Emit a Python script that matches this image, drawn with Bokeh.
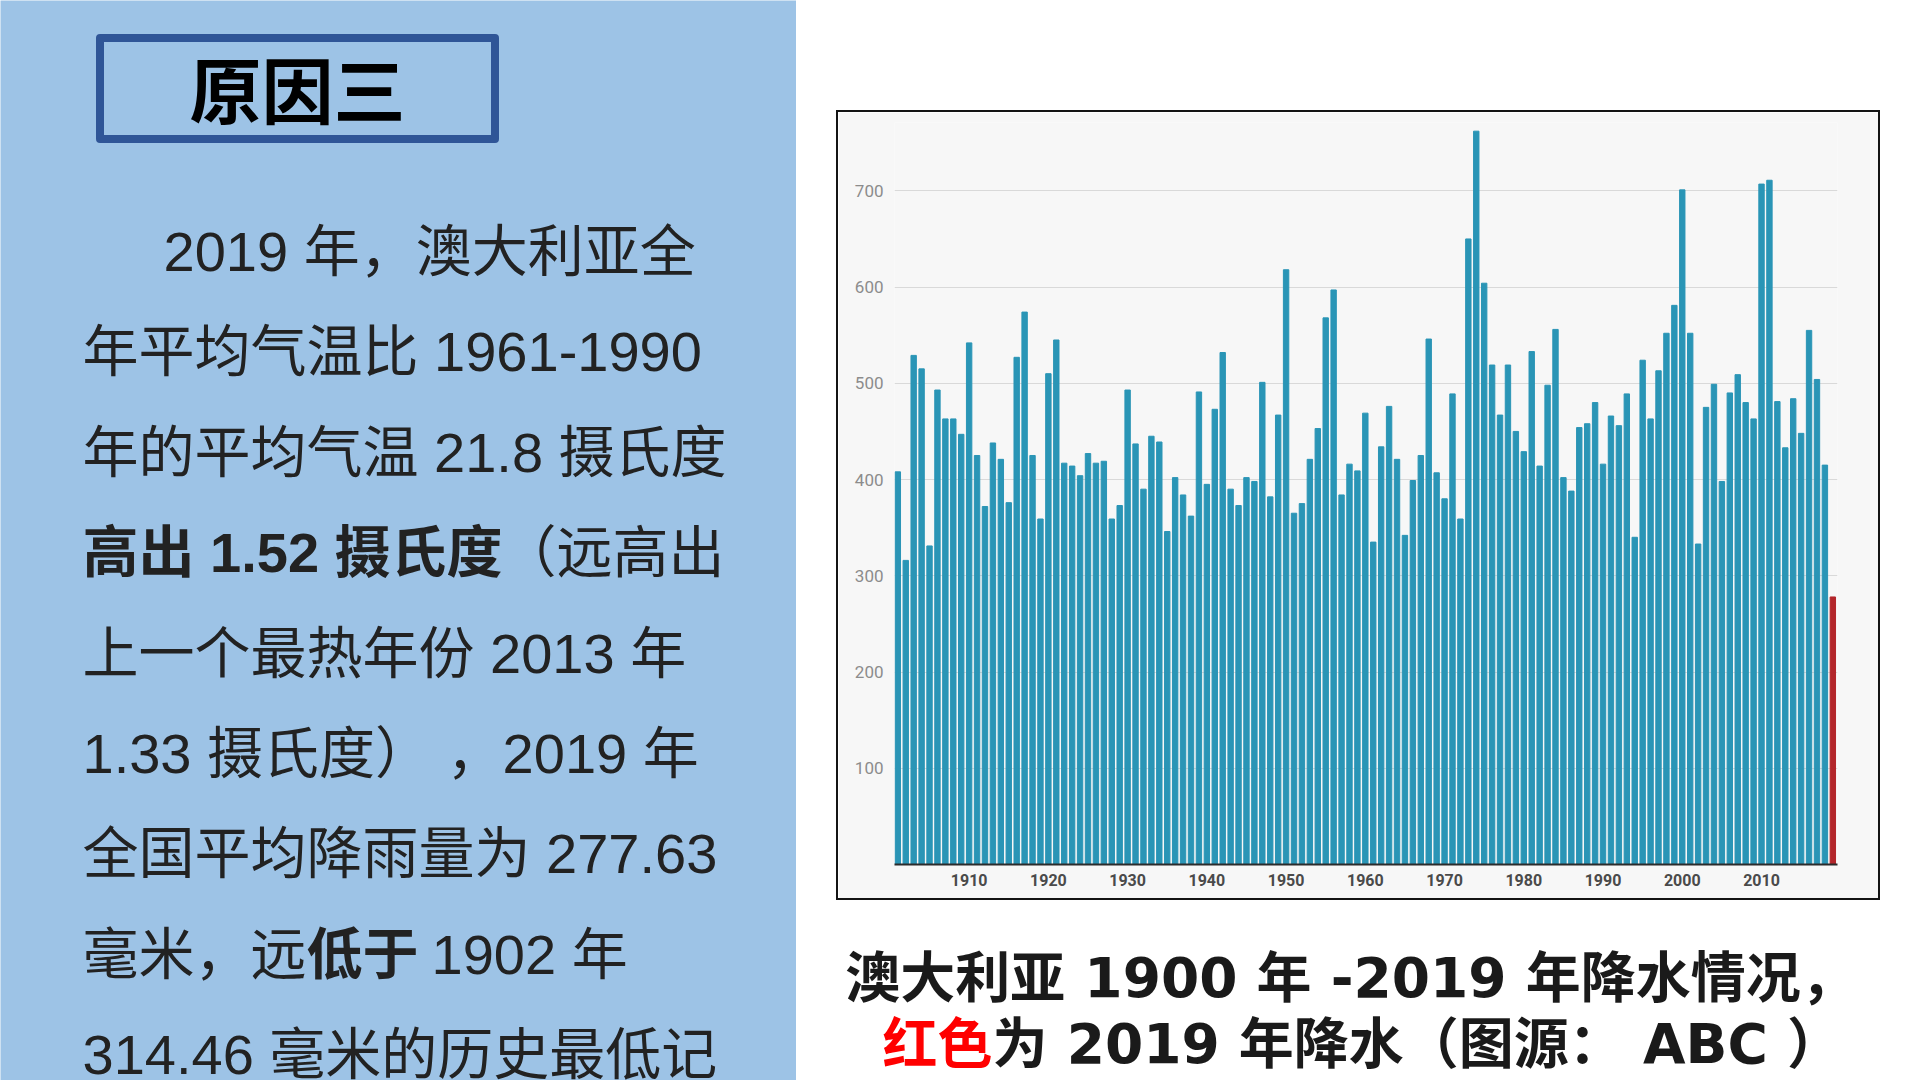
from bokeh.plotting import figure
from bokeh.layouts import row, column
from bokeh.models import Range1d, ColumnDataSource, FixedTicker, Spacer
from bokeh.core.properties import value
from bokeh.embed import file_html
from bokeh.resources import INLINE

# ---------------- data ----------------
years = list(range(1901, 2020))
rainfall = [
    408, 316, 529, 515, 331, 493, 463, 463, 447, 542,   # 1901-1910
    425, 372, 438, 421, 376, 527, 574, 425, 359, 510,   # 1911-1920
    545, 417, 414, 404, 427, 417, 419, 359, 373, 493,   # 1921-1930
    437, 390, 445, 439, 346, 402, 384, 362, 491, 395,   # 1931-1940
    473, 532, 390, 373, 402, 398, 501, 382, 467, 618,   # 1941-1950
    365, 375, 421, 453, 568, 597, 384, 416, 409, 469,   # 1951-1960
    335, 434, 476, 421, 342, 399, 425, 546, 407, 380,   # 1961-1970
    489, 359, 650, 762, 604, 519, 467, 519, 450, 429,   # 1971-1980
    533, 414, 498, 556, 402, 388, 454, 458, 480, 416,   # 1981-1990
    466, 456, 489, 340, 524, 463, 513, 552, 581, 701,   # 1991-2000
    552, 333, 475, 499, 398, 490, 509, 480, 463, 707,   # 2001-2010
    711, 481, 433, 484, 448, 555, 504, 415, 278,        # 2011-2019
]
highlight_year = 2019
x_tick_years = [1910, 1920, 1930, 1940, 1950, 1960, 1970, 1980, 1990, 2000, 2010]
y_ticks = [100, 200, 300, 400, 500, 600, 700]

title_text = "原因三"
body_lines = [
    "2019 年，澳大利亚全",
    "年平均气温比 1961-1990",
    "年的平均气温 21.8 摄氏度",
    None,
    "上一个最热年份 2013 年",
    "1.33 摄氏度） ，2019 年",
    "全国平均降雨量为 277.63",
    None,
    "314.46 毫米的历史最低记",
]
line4 = [("高出 1.52 摄氏度", "bold"), ("（远高出", "normal")]
line8 = [("毫米，远", "normal"), ("低于", "bold"), ("1902 年", "normal")]
caption1 = "澳大利亚 1900 年 -2019 年降水情况，"
caption2_red = "红色"
caption2_rest = "为 2019 年降水（图源： ABC ）"

FONT = "Liberation Sans, Noto Sans CJK SC, sans-serif"
CAP_FONT = "DejaVu Sans, Noto Sans CJK SC, sans-serif"
BAR_COLOR = "#2a95b6"
RED_COLOR = "#b3262b"
PANEL_BLUE = "#9dc3e6"
FRAME_BLACK = "#141414"

# ---------------- left text panel ----------------
left = figure(width=796, height=1080, x_range=Range1d(0, 796), y_range=Range1d(1080, 0),
              x_axis_type=None, y_axis_type=None, output_backend="svg", toolbar_location=None,
              min_border=0, background_fill_color=PANEL_BLUE, border_fill_color=PANEL_BLUE,
              outline_line_color=None)
left.grid.visible = False

left.rect(x=[297], y=[88], width=[395], height=[101], fill_color=None,
          line_color="#2f5597", line_width=8, line_join="round")
left.text(x=[297], y=[92], text=[title_text], text_font=value(FONT), text_font_size="72px",
          text_font_style="bold", text_align="center", text_baseline="middle", text_color="#000000")

FS = 56
line_y = [251, 351, 452, 552, 653, 753, 853, 954, 1054]
xs, ys, ts = [], [], []
for i, t in enumerate(body_lines):
    if t is None:
        continue
    xs.append(163 if i == 0 else 82)
    ys.append(line_y[i])
    ts.append(t)
left.text(x=xs, y=ys, text=ts, text_font=value(FONT), text_font_size=f"{FS}px",
          text_align="left", text_baseline="middle", text_color="#222222")

seg_x4 = [82, 500]
for (t, st), sx in zip(line4, seg_x4):
    left.text(x=[sx], y=[line_y[3]], text=[t], text_font=value(FONT), text_font_size=f"{FS}px",
              text_font_style=st, text_align="left", text_baseline="middle", text_color="#222222")
seg_x8 = [82, 306, 431]
for (t, st), sx in zip(line8, seg_x8):
    left.text(x=[sx], y=[line_y[7]], text=[t], text_font=value(FONT), text_font_size=f"{FS}px",
              text_font_style=st, text_align="left", text_baseline="middle", text_color="#222222")

# ---------------- chart ----------------
colors = [RED_COLOR if y == highlight_year else BAR_COLOR for y in years]
src = ColumnDataSource(dict(year=years, rain=rainfall, color=colors))

chart = figure(width=1040, height=786, x_range=Range1d(1900.58, 2019.59), y_range=Range1d(0, 771),
               output_backend="svg", toolbar_location=None,
               min_border_left=56, min_border_right=41, min_border_top=10, min_border_bottom=34,
               background_fill_color="#f7f7f7", border_fill_color="#f7f7f7",
               outline_line_color=None)
chart.vbar(x="year", top="rain", width=0.68, color="color", source=src)

chart.xaxis.ticker = FixedTicker(ticks=x_tick_years)
chart.xaxis.axis_line_color = "#2b2b2b"
chart.xaxis.axis_line_width = 2
chart.xaxis.major_tick_line_color = None
chart.xaxis.minor_tick_line_color = None
chart.xaxis.major_tick_out = 0
chart.xaxis.major_tick_in = 0
chart.xaxis.major_label_standoff = 9
chart.xaxis.major_label_text_font = "Roboto"
chart.xaxis.major_label_text_font_size = "16px"
chart.xaxis.major_label_text_font_style = "bold"
chart.xaxis.major_label_text_color = "#4a4a4a"

chart.yaxis.ticker = FixedTicker(ticks=y_ticks)
chart.yaxis.axis_line_color = None
chart.yaxis.major_tick_line_color = None
chart.yaxis.minor_tick_line_color = None
chart.yaxis.major_tick_out = 0
chart.yaxis.major_tick_in = 0
chart.yaxis.major_label_standoff = 11
chart.yaxis.major_label_text_font = "Roboto"
chart.yaxis.major_label_text_font_size = "17px"
chart.yaxis.major_label_text_color = "#8c8c8c"

chart.xgrid.grid_line_color = None
chart.ygrid.grid_line_color = "#d9d9d9"
chart.ygrid.grid_line_width = 1


def bar_spacer(w, h):
    return Spacer(width=w, height=h, styles={"background-color": FRAME_BLACK})


boxed_chart = column(bar_spacer(1044, 2),
                     row(bar_spacer(2, 786), chart, bar_spacer(2, 786)),
                     bar_spacer(1044, 2))

# ---------------- caption ----------------
cap = figure(width=1124, height=180, x_range=Range1d(0, 1124), y_range=Range1d(180, 0),
             x_axis_type=None, y_axis_type=None, output_backend="svg", toolbar_location=None,
             min_border=0, background_fill_color="#ffffff", border_fill_color="#ffffff",
             outline_line_color=None)
cap.grid.visible = False
CFS = 55
cap.text(x=[554], y=[77], text=[caption1], text_font=value(CAP_FONT), text_font_size=f"{CFS}px",
         text_font_style="bold", text_align="center", text_baseline="middle", text_color="#1a1a1a")
cap.text(x=[86], y=[143], text=[caption2_red], text_font=value(CAP_FONT), text_font_size=f"{CFS}px",
         text_font_style="bold", text_align="left", text_baseline="middle", text_color="#ff0000")
cap.text(x=[86 + 2 * CFS], y=[143], text=[caption2_rest], text_font=value(CAP_FONT),
         text_font_size=f"{CFS}px", text_font_style="bold", text_align="left",
         text_baseline="middle", text_color="#1a1a1a")

right = column(Spacer(width=1124, height=110),
               row(Spacer(width=40, height=790), boxed_chart, Spacer(width=40, height=790)),
               cap)
layout = row(left, right)

open("out.html", "w").write(file_html(layout, INLINE))
